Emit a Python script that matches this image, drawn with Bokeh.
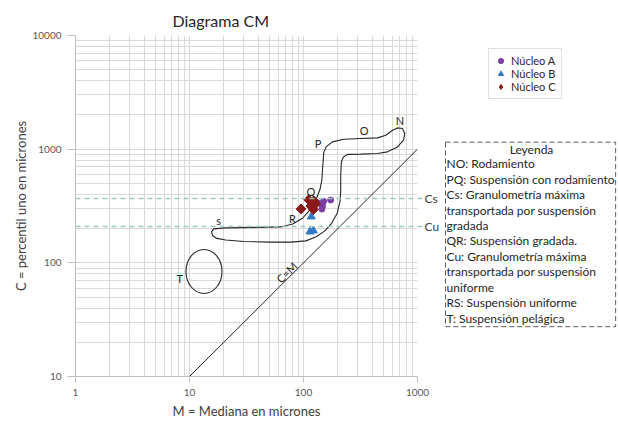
from bokeh.plotting import figure
from bokeh.models import (Range1d, FixedTicker, Label, Legend, LegendItem, Span,
                          PrintfTickFormatter, LogAxis)
from bokeh.layouts import row
from bokeh.embed import file_html
from bokeh.resources import INLINE
import math

FONT = "Lato"

# ---------------- data ----------------
nucleo_a_m = [173, 150, 147, 145, 133]
nucleo_a_c = [357, 348, 318, 297, 338]

nucleo_b_m = [117, 114, 122]
nucleo_b_c = [255, 188, 192]

nucleo_c_m = [95, 111, 123, 128, 116, 122]
nucleo_c_c = [298, 359, 350, 330, 316, 294]

cs_value = 368
cu_value = 209

cm_line = [10, 1000]

# NOPQRS outline (M, C) in microns
shape_m = [15.6, 16.3, 20.8, 38.2, 63.2, 80.5, 98.6, 113.5, 128.2, 139, 144.8, 147.6,
           150.7, 158.5, 179.6, 225.8, 318, 446, 527, 604, 668, 738, 774, 754, 668,
           545, 446, 318, 243, 224, 215, 212, 212, 210, 198, 177, 154, 128, 105,
           77.4, 51.7, 29.9, 20.8, 17.4, 16.0]
shape_c = [187, 199, 203, 205, 207, 220, 248, 292, 357, 437, 535, 710,
           942, 1052, 1159, 1224, 1241, 1257, 1327, 1468, 1538, 1519, 1374, 1199, 1047,
           947, 917, 904, 899, 855, 774, 592, 437, 357, 275, 224, 191, 169, 156,
           152, 152, 154, 159, 164, 173]

t_center_m = [13.4]
t_center_c = [84]

region_text = ["N", "O", "P", "Q", "R", "s", "T"]
region_m = [700, 340, 134, 116, 80, 18, 8.2]
region_c = [1795, 1468, 1120, 428, 247, 235, 72.5]

x_major = [1, 10, 100, 1000]
y_major = [10, 100, 1000, 10000]

series_names = ["Núcleo A", "Núcleo B", "Núcleo C"]

leyenda_title = "Leyenda"
leyenda_lines = [
    "NO: Rodamiento",
    "PQ: Suspensión con rodamiento",
    "Cs: Granulometría máxima",
    "transportada por suspensión",
    "gradada",
    "QR: Suspensión gradada.",
    "Cu: Granulometría máxima",
    "transportada por suspensión",
    "uniforme",
    "RS: Suspensión uniforme",
    "T: Suspensión pelágica",
]

COL_A = "#7b3fa3"
COL_B = "#2f7ac3"
COL_C = "#8b1a1a"
INK = "#262626"

# ---------------- main chart ----------------
p = figure(width=442, height=421, x_axis_type="log", y_axis_type="log",
           x_range=Range1d(1, 1000), y_range=Range1d(10, 10000),
           output_backend="svg", toolbar_location=None,
           min_border_left=75, min_border_right=25, min_border_top=35, min_border_bottom=44)
p.outline_line_color = None

p.title.text = "Diagrama CM"
p.title.align = "left"
p.title.offset = 97
p.title.text_font = FONT
p.title.text_font_size = "16px"
p.title.text_font_style = "normal"
p.title.text_color = INK
p.title.standoff = 12

x_minor = [m * d for d in x_major[:-1] for m in range(2, 10)]
y_minor = [m * d for d in y_major[:-1] for m in range(2, 10)]
p.xaxis.ticker = FixedTicker(ticks=x_major, minor_ticks=x_minor)
p.yaxis.ticker = FixedTicker(ticks=y_major, minor_ticks=y_minor)
p.xgrid.ticker = p.xaxis[0].ticker
p.ygrid.ticker = p.yaxis[0].ticker

for g in (p.xgrid[0], p.ygrid[0]):
    g.grid_line_color = "#d9d9d9"
    g.minor_grid_line_color = "#d9d9d9"

for ax in (p.xaxis[0], p.yaxis[0]):
    ax.formatter = PrintfTickFormatter(format="%d")
    ax.axis_line_color = "#bfbfbf"
    ax.major_tick_line_color = "#bfbfbf"
    ax.minor_tick_line_color = None
    ax.major_tick_in = 0
    ax.major_label_text_font = FONT
    ax.major_label_text_font_size = "10px"
    ax.major_label_text_color = "#595959"
    ax.axis_label_text_font = FONT
    ax.axis_label_text_font_style = "normal"
    ax.axis_label_text_font_size = "13px"
    ax.axis_label_text_color = "#404040"

p.xaxis.axis_label = "M = Mediana en micrones"
p.yaxis.axis_label = "C = percentil uno en micrones"
p.xaxis.major_tick_out = 6
p.yaxis.major_tick_out = 8
p.xaxis.major_label_standoff = 6
p.yaxis.major_label_standoff = 6
p.xaxis.axis_label_standoff = 4
p.yaxis.axis_label_standoff = 0

# reference lines Cs / Cu
for val in (cs_value, cu_value):
    p.add_layout(Span(location=val, dimension="width", line_color="#9ccbbf",
                      line_width=1.5, line_dash="5 4"))

# right axis carrying the Cs / Cu labels
cs_axis = LogAxis(ticker=FixedTicker(ticks=[cs_value, cu_value], minor_ticks=[]),
                  major_label_overrides={cs_value: "Cs", cu_value: "Cu"})
cs_axis.axis_line_color = None
cs_axis.major_tick_line_color = "#9ccbbf"
cs_axis.major_tick_line_width = 1.5
cs_axis.major_tick_in = 0
cs_axis.major_tick_out = 5
cs_axis.minor_tick_line_color = None
cs_axis.major_label_standoff = 2
cs_axis.major_label_text_font = FONT
cs_axis.major_label_text_font_size = "12px"
cs_axis.major_label_text_color = "#404040"
p.add_layout(cs_axis, "right")

# C = M
p.line(cm_line, cm_line, line_color=INK, line_width=1)

# NOPQRS outline
p.patch(shape_m, shape_c, fill_alpha=0, line_color=INK, line_width=1.1)

# T ellipse
p.ellipse(x=t_center_m, y=t_center_c, width=36, height=44,
          width_units="screen", height_units="screen",
          fill_alpha=0, line_color=INK, line_width=1.1)

# points
p.scatter(nucleo_a_m, nucleo_a_c, marker="circle", size=6, color=COL_A)
p.scatter(nucleo_b_m, nucleo_b_c, marker="triangle", size=8, color=COL_B)
p.scatter(nucleo_c_m, nucleo_c_c, marker="square", angle=math.pi / 4, size=7, color=COL_C)

# region letters
for t, m, c in zip(region_text, region_m, region_c):
    p.add_layout(Label(x=m, y=c, text=t, text_align="center", text_baseline="middle",
                       text_font=FONT, text_font_size="11px", text_color=INK))

p.add_layout(Label(x=71, y=82.6, text="C=M", angle=math.pi / 4, text_align="center",
                   text_baseline="middle", text_font=FONT, text_font_size="11px",
                   text_color=INK))

# ---------------- side panel with the legends ----------------
# ranges chosen so that one unit = one page pixel (x from page left, y from page top)
side = figure(width=176, height=421, x_range=Range1d(442, 618), y_range=Range1d(377, 35),
              output_backend="svg", toolbar_location=None,
              min_border_left=0, min_border_right=0, min_border_top=35, min_border_bottom=44,
              x_axis_location=None, y_axis_location=None)
side.outline_line_color = None
side.xgrid.visible = False
side.ygrid.visible = False

# legend proxies: the series' first points, which fall outside this panel's ranges
da = side.scatter(nucleo_a_m[:1], nucleo_a_c[:1], marker="circle", color=COL_A)
db = side.scatter(nucleo_b_m[:1], nucleo_b_c[:1], marker="triangle", color=COL_B)
dc = side.scatter(nucleo_c_m[:1], nucleo_c_c[:1], marker="diamond", color=COL_C)

legend = Legend(items=[LegendItem(label=series_names[0], renderers=[da]),
                       LegendItem(label=series_names[1], renderers=[db]),
                       LegendItem(label=series_names[2], renderers=[dc])],
                location=(46, 277))
legend.border_line_color = "#bfbfbf"
legend.background_fill_color = "white"
legend.label_text_font = FONT
legend.label_text_font_size = "11px"
legend.label_text_color = INK
legend.padding = 5
legend.spacing = 0
legend.margin = 0
legend.glyph_width = 13
legend.glyph_height = 13
legend.label_height = 13
legend.label_standoff = 4
side.add_layout(legend, "center")

side.add_layout(Label(x=445, y=142, text="\n".join(leyenda_lines),
                      text_align="left", text_baseline="top", text_font=FONT,
                      text_font_size="12px", text_line_height=1.03, text_color=INK,
                      border_line_color="#595959", border_line_dash="5 3",
                      border_line_width=1, background_fill_color="white",
                      padding=dict(left=1, right=1, top=14, bottom=1)))
side.add_layout(Label(x=531, y=149, text=leyenda_title,
                      text_align="center", text_baseline="middle", text_font=FONT,
                      text_font_size="12px", text_color=INK))

layout = row(p, side)
open("out.html", "w").write(file_html(layout, INLINE))
